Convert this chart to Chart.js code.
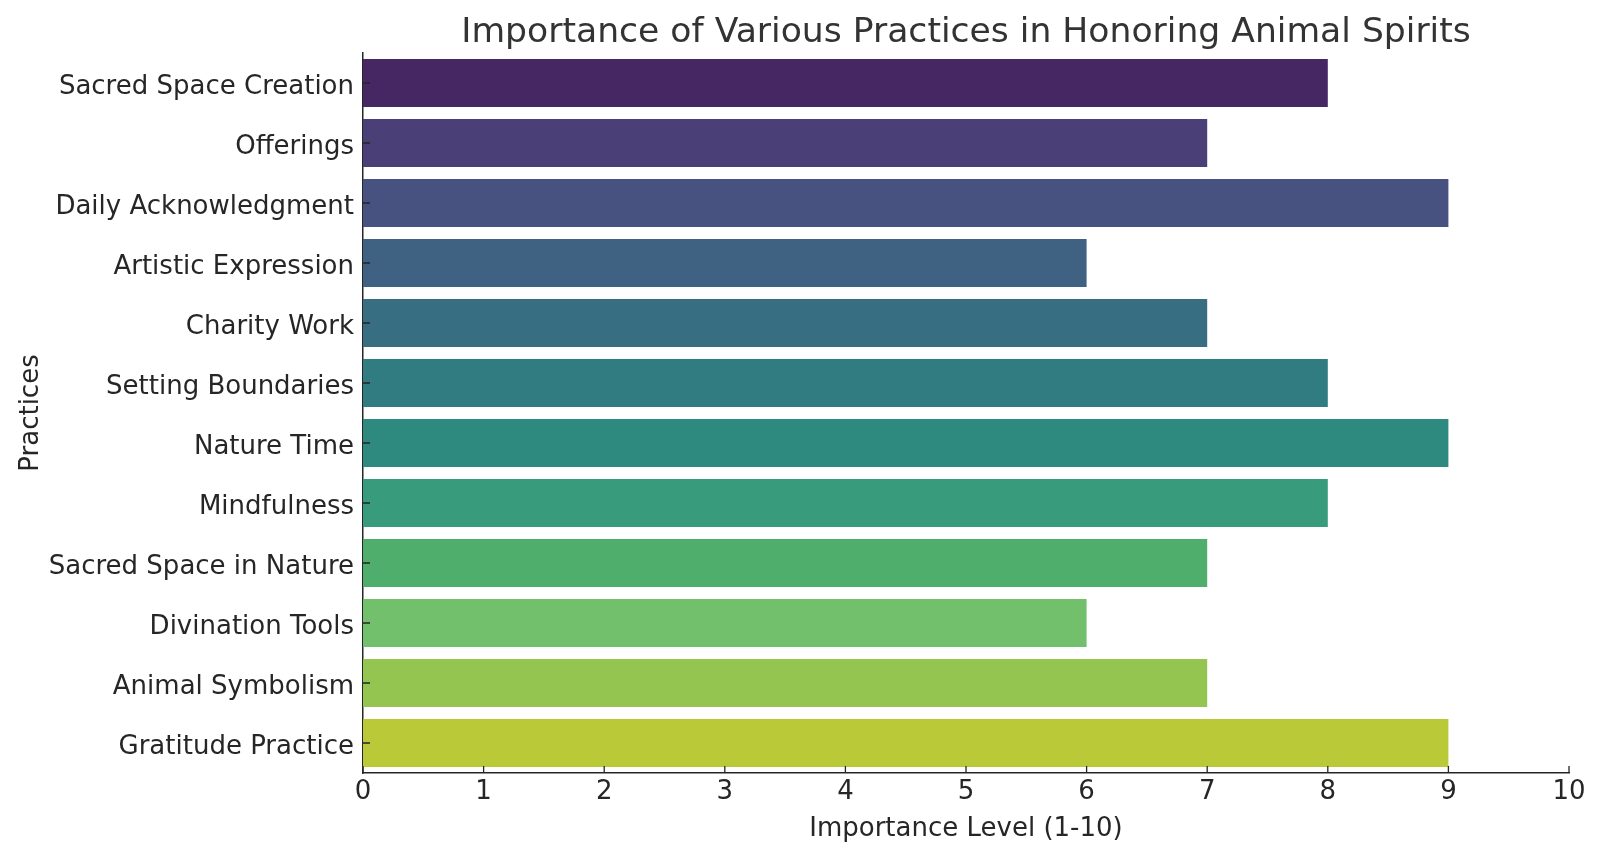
<!DOCTYPE html>
<html>
<head>
<meta charset="utf-8">
<script src="https://cdn.jsdelivr.net/npm/chart.js@4.4.0/dist/chart.umd.min.js"></script>
<style>
  body { margin: 0; background: #fff; }
  canvas { display: block; }
</style>
</head>
<body>
<canvas id="chart_practices" width="1600" height="857"></canvas>
<script>
// data
const practices = [
    "Sacred Space Creation", "Offerings", "Daily Acknowledgment", "Artistic Expression",
    "Charity Work", "Setting Boundaries", "Nature Time", "Mindfulness",
    "Sacred Space in Nature", "Divination Tools", "Animal Symbolism", "Gratitude Practice"
];
const importance = [8, 7, 9, 6, 7, 8, 9, 8, 7, 6, 7, 9];
// viridis palette, a bit desaturated
const barColors = [
    "#472664", "#4b3f77", "#475280", "#3f6182", "#376e82", "#317c81",
    "#2e897e", "#379b7c", "#50ae6d", "#73c06c", "#95c551", "#bac937"
];

const FONT = "'DejaVu Sans', sans-serif";
const INK = "#262626";

// matplotlib style ticks pointing into the plot
const innerTicks = {
    id: "innerTicks",
    afterDatasetsDraw(chart) {
        const ctx = chart.ctx;
        const x = chart.scales.x, y = chart.scales.y;
        ctx.save();
        ctx.strokeStyle = INK;
        ctx.lineWidth = 1.3;
        ctx.beginPath();
        x.ticks.forEach((t, i) => {
            const px = x.getPixelForTick(i);
            ctx.moveTo(px, y.bottom);
            ctx.lineTo(px, y.bottom - 7);
        });
        y.ticks.forEach((t, i) => {
            const py = y.getPixelForTick(i);
            ctx.moveTo(x.left, py);
            ctx.lineTo(x.left + 7, py);
        });
        ctx.stroke();
        ctx.restore();
    }
};

new Chart(document.getElementById("chart_practices").getContext("2d"), {
    type: "bar",
    data: {
        labels: practices,
        datasets: [{
            label: "Importance",
            data: importance,
            backgroundColor: barColors,
            borderWidth: 0,
            barPercentage: 0.8,
            categoryPercentage: 1.0
        }]
    },
    options: {
        indexAxis: "y",
        responsive: false,
        animation: false,
        devicePixelRatio: 1,
        layout: { padding: { left: 0, right: 31, top: 0, bottom: 0 } },
        plugins: {
            legend: { display: false },
            tooltip: { enabled: false },
            title: {
                display: true,
                text: "Importance of Various Practices in Honoring Animal Spirits",
                fullSize: false,
                color: "#333333",
                font: { family: FONT, size: 34.6, weight: "normal", lineHeight: 1.0 },
                padding: { top: 16, bottom: 2.4 }
            }
        },
        scales: {
            x: {
                type: "linear",
                min: 0,
                max: 10,
                grid: { display: false, drawTicks: false },
                border: { display: true, color: INK, width: 1.5 },
                ticks: {
                    stepSize: 1,
                    color: INK,
                    padding: 4,
                    font: { family: FONT, size: 26 }
                },
                title: {
                    display: true,
                    text: "Importance Level (1-10)",
                    color: INK,
                    font: { family: FONT, size: 26 },
                    padding: { top: 0, bottom: 12 }
                },
                afterFit(scale) { scale.height = 84; }
            },
            y: {
                grid: { display: false, drawTicks: false },
                border: { display: true, color: INK, width: 1.5 },
                ticks: {
                    color: INK,
                    padding: 9,
                    labelOffset: 4,
                    font: { family: FONT, size: 26 }
                },
                title: {
                    display: true,
                    text: "Practices",
                    color: INK,
                    font: { family: FONT, size: 26 },
                    padding: { top: 16, bottom: 0 }
                },
                afterFit(scale) { scale.width = 363; }
            }
        }
    },
    plugins: [innerTicks]
});
</script>
</body>
</html>
